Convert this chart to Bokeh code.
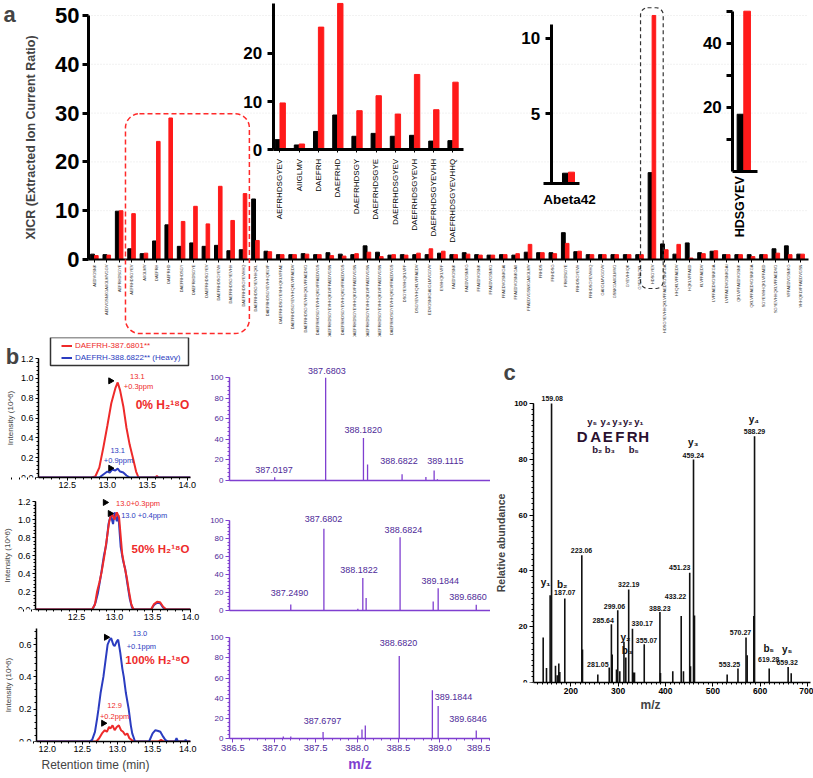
import math
from bokeh.plotting import figure
from bokeh.models import (Range1d, LinearAxis, FixedTicker, BoxAnnotation, Label,
                          Legend, LegendItem, ColumnDataSource, PrintfTickFormatter)
from bokeh.layouts import column, row
from bokeh.transform import dodge
from bokeh.core.properties import value
from bokeh.embed import file_html
from bokeh.resources import INLINE

SANS = "Liberation Sans"
RED = "#ff1a1a"
CRED = "#ee2a2a"
CBLUE = "#2b3cc0"
PURPLE = "#7f3fd0"
PTEXT = "#4e2a98"

# ---------------- panel a data ----------------
peptides = [
    "AEDVGSNK", "AEDVGSNKGAIIGLMVGGV", "AEFRHDSGYE", "AEFRHDSGYEV", "AIIGLMV",
    "DAEFRH", "DAEFRHD", "DAEFRHDSGY", "DAEFRHDSGYE", "DAEFRHDSGYEV",
    "DAEFRHDSGYEVH", "DAEFRHDSGYEVHH", "DAEFRHDSGYEVHHQ", "DAEFRHDSGYEVHHQKL",
    "DAEFRHDSGYEVHHQKLVF", "DAEFRHDSGYEVHHQKLVFFAE", "DAEFRHDSGYEVHHQKLVFFAEDV",
    "DAEFRHDSGYEVHHQKLVFFAEDVG", "DAEFRHDSGYEVHHQKLVFFAEDVGS", "DAEFRHDSGYEVHHQKLVFFAEDVGSN",
    "DAEFRHDSGYEVHHQKLVFFAEDVGS", "DAEFRHDSGYEVHHQKLVFFAEDVGSN", "DAEFRHDSGYEVHHQKLVFFAEDVGSN",
    "DAEFRHDSGYEVHHQKLVFFAEDVGSN", "DAEFRHDSGYEVHHQKLVFFAEDVGS", "DSGYEVHHQKLVFF",
    "DSGYEVHHQKLVFFAEDV", "EDVGSNKGAIIGLMVGGVV", "EVHHQKLVFF", "FAEDVGSNK",
    "FAEDVGSNKG", "FFAEDVGSNK", "FFAEDVGSNKG", "FFAEDVGSNKGAI", "FFAEDVGSNKGAII",
    "FFAEDVGSNKGAIIGLMV", "FRHDS", "FRHDSG", "FRHDSGYE", "FRHDSGYEVH",
    "FRHDSGYEVHHQ", "GAIIGLMVGGVV", "GSNKGAIIGLMVG", "GYEVHHQK", "GYEVHHQKL",
    "HDSGYEV", "HDSGYEVHHQKLVFFAEDVGSNKGA", "HHQKLVFFAEDV", "HQKLVFFAED", "KLVFFAEDV",
    "LVFFAEDVGSNKGA", "LVFFAEDVGSNKGAI", "QKLVFFAEDVGSNK", "QKLVFFAEDVGSNKGA",
    "SGYEVHHQKLVFFAED", "SGYEVHHQKLVFFAEDVG", "VFFAEDVGSNKG", "VHHQKLVFFAEDVGSN",
]
xicr_black = [1.1, 1.0, 9.9, 2.2, 1.2, 3.8, 7.1, 2.7, 3.4, 2.7,
              2.9, 1.8, 2.0, 12.4, 1.7, 1.0, 1.0, 1.2, 1.0, 1.4,
              1.1, 1.0, 2.8, 1.5, 0.9, 1.0, 1.0, 1.0, 1.3, 1.0,
              1.4, 1.0, 0.9, 1.0, 0.9, 1.5, 1.4, 1.4, 5.5, 1.6,
              1.0, 1.0, 1.0, 1.0, 1.0, 17.8, 3.2, 1.1, 3.4, 1.4,
              1.7, 1.0, 1.0, 1.0, 1.0, 2.2, 2.8, 1.1]
xicr_red = [0.8, 0.9, 10.0, 9.4, 1.3, 24.2, 29.0, 7.8, 10.9, 7.3,
            15.0, 8.0, 13.5, 3.9, 1.6, 1.0, 1.0, 1.1, 1.0, 0.8,
            0.7, 1.2, 1.5, 0.6, 1.0, 0.9, 1.3, 2.2, 1.7, 1.0,
            1.1, 0.9, 0.9, 1.0, 1.2, 3.1, 1.4, 1.2, 3.3, 1.7,
            1.0, 1.0, 1.0, 1.0, 1.0, 50.0, 2.0, 3.1, 0.3, 1.2,
            1.8, 1.0, 1.0, 0.6, 1.0, 1.3, 1.0, 1.1]
main_yticks = [0, 10, 20, 30, 40, 50]

inset1_names = peptides[3:13]
inset1_black = [2.1, 1.0, 3.8, 7.2, 2.8, 3.4, 2.8, 3.0, 1.8, 1.9]
inset1_red = [9.7, 1.2, 25.4, 30.3, 8.1, 11.2, 7.4, 15.6, 8.3, 14.0]
inset1_yticks = [0, 10, 20]

abeta_name = ["Abeta42"]
abeta_black = [1.07]
abeta_red = [1.14]
abeta_yticks = [5, 10]

hdsg_name = ["HDSGYEV"]
hdsg_black = [17.8]
hdsg_red = [50.0]
hdsg_yticks = [10, 20, 30, 40, 50]

# ---------------- panel b data (chromatograms) ----------------
c1_red_t = [12.14, 12.5, 12.8, 12.85, 12.9, 12.95, 13.0, 13.05, 13.1, 13.13, 13.16, 13.2,
            13.24, 13.28, 13.32, 13.36, 13.39, 13.6, 13.62, 13.64, 13.8, 14.04]
c1_red_i = [0.0, 0.0, 0.0, 0.01, 0.1, 0.3, 0.52, 0.75, 0.9, 0.96, 0.88, 0.72,
            0.5, 0.33, 0.2, 0.06, 0.0, 0.0, 0.015, 0.0, 0.0, 0.0]
c1_blue_t = [12.14, 12.9, 12.95, 13.0, 13.03, 13.06, 13.1, 13.13, 13.16, 13.2, 13.24, 13.28, 14.04]
c1_blue_i = [0.0, 0.0, 0.03, 0.06, 0.05, 0.08, 0.07, 0.09, 0.06, 0.05, 0.02, 0.0, 0.0]

c2_red_t = [11.96, 12.7, 12.74, 12.77, 12.8, 12.83, 12.87, 12.9, 12.93, 12.96, 13.0, 13.03,
            13.06, 13.1, 13.13, 13.16, 13.19, 13.22, 13.25, 13.48, 13.52, 13.56, 13.6,
            13.64, 13.68, 14.0]
c2_red_i = [0.0, 0.0, 0.05, 0.2, 0.3, 0.42, 0.62, 0.8, 0.98, 1.07, 1.0, 1.08,
            1.02, 0.62, 0.48, 0.36, 0.2, 0.06, 0.0, 0.0, 0.06, 0.085, 0.08,
            0.03, 0.0, 0.0]
c2_blue_t = [11.96, 12.71, 12.75, 12.78, 12.82, 12.86, 12.89, 12.92, 12.95, 12.98, 13.0,
             13.03, 13.05, 13.08, 13.11, 13.14, 13.17, 13.2, 13.23, 13.26, 13.48, 13.52,
             13.56, 13.6, 13.64, 13.68, 14.0]
c2_blue_i = [0.0, 0.0, 0.08, 0.18, 0.38, 0.6, 0.72, 0.95, 1.05, 0.95, 1.08,
             0.98, 1.05, 0.7, 0.55, 0.45, 0.28, 0.12, 0.02, 0.0, 0.0, 0.05,
             0.075, 0.07, 0.02, 0.0, 0.0]

c3_blue_t = [11.85, 12.6, 12.64, 12.68, 12.71, 12.73, 12.76, 12.8, 12.83, 12.86, 12.89,
             12.91, 12.94, 12.96, 12.99, 13.01, 13.04, 13.07, 13.09, 13.12, 13.16, 13.19,
             13.21, 13.25, 13.45, 13.5, 13.54, 13.58, 13.61, 13.65, 13.68, 13.72, 13.82,
             13.84, 13.86, 13.96, 13.97, 13.98, 14.04]
c3_blue_i = [0.0, 0.0, 0.01, 0.06, 0.14, 0.2, 0.3, 0.4, 0.5, 0.6, 0.63,
             0.64, 0.6, 0.59, 0.62, 0.63, 0.55, 0.45, 0.4, 0.3, 0.2, 0.1,
             0.05, 0.0, 0.0, 0.05, 0.07, 0.065, 0.06, 0.03, 0.01, 0.0, 0.0,
             0.02, 0.0, 0.0, 0.012, 0.0, 0.0]
c3_red_t = [11.85, 12.7, 12.74, 12.78, 12.82, 12.85, 12.88, 12.9, 12.93, 12.96, 12.99,
            13.02, 13.05, 13.08, 13.11, 13.14, 13.17, 13.2, 13.24, 13.58, 13.62, 13.66, 14.04]
c3_red_i = [0.0, 0.0, 0.02, 0.05, 0.07, 0.06, 0.09, 0.08, 0.1, 0.07, 0.09,
            0.1, 0.07, 0.06, 0.04, 0.05, 0.02, 0.01, 0.0, 0.0, 0.01, 0.0, 0.0]

legend_labels = ["DAEFRH-387.6801**", "DAEFRH-388.6822** (Heavy)"]
conditions = ["0% H\u2082\u00b9\u2078O", "50% H\u2082\u00b9\u2078O", "100% H\u2082\u00b9\u2078O"]

# annotations (retention time, intensity, text)
c1_red_note = ([13.375, 13.39], [1.016, 0.92], ["13.1", "+0.3ppm"])
c1_blue_note = ([13.13, 13.14], [0.276, 0.168], ["13.1", "+0.9ppm"])
c1_marks = ([13.04, 13.04], [0.976, 0.094])
c2_red_note = ([13.31], [1.18], ["13.0+0.3ppm"])
c2_blue_note = ([13.39], [1.04], ["13.0 +0.4ppm"])
c2_marks = ([12.875, 12.94], [1.19, 1.067])
c3_blue_note = ([13.32, 13.34], [0.67, 0.588], ["13.0", "+0.1ppm"])
c3_red_note = ([12.96, 12.96], [0.223, 0.155], ["12.9", "+0.2ppm"])
c3_marks = ([12.84, 12.8], [0.645, 0.113])
cond_pos = ([13.69, 13.985, 14.026], [0.73, 0.67, 0.507])

# ---------------- panel b data (spectra) ----------------
s1_mz = [386.98, 387.60, 388.06, 388.11, 388.53, 388.82, 388.92, 388.96]
s1_int = [3.2, 100, 41.5, 15.6, 6.0, 3.5, 9.7, 1.2]
s1_lab = ["387.0197", "387.6803", "388.1820", "388.6822", "389.1115"]
s1_lab_x = [386.971, 387.615, 388.058, 388.493, 389.056]
s1_lab_y = [10.4, 107.1, 49.4, 18.8, 18.8]

s2_mz = [387.20, 387.60, 388.01, 388.07, 388.11, 388.52, 388.92, 388.98, 389.44]
s2_int = [6.7, 90.8, 2.0, 36.0, 14.0, 81.5, 10.0, 24.8, 6.3]
s2_lab = ["387.2490", "387.6802", "388.1822", "388.6824", "389.1844", "389.6860"]
s2_lab_x = [387.184, 387.594, 388.025, 388.56, 389.004, 389.34]
s2_lab_y = [19.7, 101.9, 45.2, 88.9, 33.3, 14.8]

s3_mz = [387.11, 387.20, 387.59, 388.01, 388.06, 388.10, 388.51, 388.91, 388.98, 389.44]
s3_int = [2.0, 2.0, 6.5, 3.0, 9.0, 13.0, 82.0, 48.0, 32.4, 8.0]
s3_lab = ["387.6797", "388.6820", "389.1844", "389.6846"]
s3_lab_x = [387.582, 388.50, 389.164, 389.34]
s3_lab_y = [17.2, 95.0, 41.4, 19.2]

spec_yticks = [0, 20, 40, 60, 80, 100]
spec_xticks = [386.5, 387.0, 387.5, 388.0, 388.5, 389.0, 389.5]

# ---------------- panel c data ----------------
ms2_mz = [141.4, 148.4, 156.08, 159.08, 167.4, 171.0, 174.4, 176.5, 187.07, 223.06, 224.5,
          256.9, 281.05, 285.64, 287.3, 296.4, 299.06, 303.4, 312.18, 316.11, 322.19,
          330.17, 331.7, 334.5, 355.07, 388.23, 389.4, 415.4, 433.22, 438.0, 451.23,
          452.9, 459.24, 461.3, 530.4, 553.25, 570.27, 572.7, 586.7, 588.29, 619.28,
          659.32, 665.8]
ms2_int = [16.1, 5.2, 31.3, 100, 6.0, 2.6, 6.8, 3.8, 30.1, 45.6, 11.8,
           2.9, 5.4, 20.9, 10.0, 4.7, 25.9, 4.0, 14.6, 9.0, 33.3,
           19.3, 3.6, 3.6, 13.7, 25.3, 3.4, 4.0, 23.8, 4.0, 39.3,
           5.8, 79.9, 24.0, 2.9, 5.0, 16.1, 9.8, 23.8, 88.3, 5.0,
           5.6, 3.3]
ms2_lab = ["159.08", "223.06", "459.24", "588.29", "451.23", "187.07", "322.19", "299.06",
           "285.64", "330.17", "355.07", "388.23", "433.22", "570.27", "553.25", "619.28",
           "659.32", "281.05"]
ms2_lab_x = [160.5, 222.4, 458.6, 588.2, 430.2, 187.1, 322.4, 292.2,
             268.3, 350.7, 359.8, 388.0, 421.1, 558.6, 535.3, 618.4,
             657.3, 256.9]
ms2_lab_y = [101.8, 47.4, 81.5, 89.8, 41.2, 32.3, 35.2, 27.1,
             22.3, 21.1, 15.2, 26.7, 30.7, 17.8, 6.5, 8.2,
             7.0, 6.5]
ion_lab = ["y\u2081", "b\u2082", "y\u2082", "b\u2083", "y\u2083", "y\u2084", "b\u2085", "y\u2085"]
ion_x = [146.3, 181.6, 315.4, 319.0, 458.6, 586.7, 618.4, 657.3]
ion_y = [35.7, 35.2, 16.3, 11.3, 86.2, 94.3, 12.2, 11.8]
seq_letters = ["D", "A", "E", "F", "R", "H"]
seq_x = [224.0, 252.5, 278.0, 303.3, 329.5, 354.0]
seq_y = [88.3] * 6
seq_y_ions = ["y\u2085", "y\u2084", "y\u2083", "y\u2082", "y\u2081"]
seq_y_x = [245.0, 273.2, 297.9, 320.3, 343.6]
seq_b_ions = ["b\u2082", "b\u2083", "b\u2085"]
seq_b_x = [255.6, 282.2, 333.0]
ms2_xticks = [200, 300, 400, 500, 600, 700]
ms2_yticks = [0, 20, 40, 60, 80, 100]


def base_fig(**kw):
    p = figure(output_backend="svg", toolbar_location=None, outline_line_color=None,
               background_fill_color="white", border_fill_color="white", **kw)
    p.grid.visible = False
    return p


def style_axis(ax, size, color="black", bold=False, lw=1.5):
    ax.axis_line_width = lw
    ax.axis_line_color = color
    ax.major_tick_line_color = color
    ax.minor_tick_line_color = color
    ax.major_label_text_font = SANS
    ax.major_label_text_font_size = size
    ax.major_label_text_color = color
    ax.major_label_text_font_style = "bold" if bold else "normal"
    ax.axis_label_text_font = SANS
    ax.axis_label_text_font_style = "normal"


# =============== PANEL A =====================
ncat = len(peptides)
xs = list(range(ncat))
x_lo, x_hi = -0.484, 57.63
src_a = ColumnDataSource(dict(x=xs, blk=xicr_black, red=xicr_red))
pa = base_fig(width=813, height=337, x_range=Range1d(-7.587, 58.03),
              y_range=Range1d(-15.98, 53.07), x_axis_location=None, y_axis_location=None,
              min_border_left=0, min_border_right=0, min_border_top=0, min_border_bottom=0)
grid_y = main_yticks[1:]
pa.segment(x0=[x_lo] * len(grid_y), x1=[x_hi] * len(grid_y), y0=grid_y, y1=grid_y,
           color="#e4e4e4", line_width=1, line_dash="1 2")
pa.vbar(x=dodge("x", -0.16, range=pa.x_range), top="blk", width=0.31, source=src_a,
        color="black")
pa.vbar(x=dodge("x", 0.15, range=pa.x_range), top="red", width=0.29, source=src_a,
        color=RED)

ya = LinearAxis(fixed_location=x_lo, bounds=(0, 50), ticker=FixedTicker(ticks=main_yticks))
style_axis(ya, "22px", bold=True, lw=3)
ya.major_tick_out = 6
ya.major_tick_in = 0
ya.major_tick_line_width = 3
ya.minor_tick_line_color = None
ya.major_label_standoff = 3
ya.axis_label = "XICR (Extracted Ion Current Ratio)"
ya.axis_label_text_font_size = "12.5px"
ya.axis_label_text_font_style = "bold"
ya.axis_label_standoff = 14
pa.add_layout(ya, "left")

xa = LinearAxis(fixed_location=0, bounds=(x_lo, x_hi), ticker=FixedTicker(ticks=xs))
style_axis(xa, "4px", color="black", lw=2)
xa.major_label_text_color = "#333333"
xa.major_label_overrides = {i: n for i, n in enumerate(peptides)}
xa.major_label_orientation = math.pi / 2
xa.major_tick_out = 3
xa.major_tick_in = 0
xa.minor_tick_line_color = None
xa.major_label_standoff = 2
pa.add_layout(xa, "below")

pa.extra_x_ranges = {"in1x": Range1d(-14.557, 27.786), "in2x": Range1d(-47.333, 20.417),
                     "in3x": Range1d(-55.887, 5.241)}
pa.extra_y_ranges = {"in1y": Range1d(-38.86, 30.911), "in2y": Range1d(-9.795, 12.493),
                     "in3y": Range1d(-51.97, 53.344)}

# inset 1
src_i1 = ColumnDataSource(dict(x=list(range(len(inset1_names))), blk=inset1_black, red=inset1_red))
pa.vbar(x=dodge("x", -0.13), top="blk", width=0.25, source=src_i1, color="black",
        x_range_name="in1x", y_range_name="in1y")
pa.vbar(x=dodge("x", 0.14), top="red", width=0.28, source=src_i1, color=RED,
        x_range_name="in1x", y_range_name="in1y")
i1y = LinearAxis(x_range_name="in1x", y_range_name="in1y", fixed_location=-0.354,
                 bounds=(0, 30.3), ticker=FixedTicker(ticks=inset1_yticks))
style_axis(i1y, "17px", bold=True, lw=3)
i1y.major_tick_out = 6
i1y.major_tick_in = 0
i1y.major_tick_line_width = 3
i1y.minor_tick_line_color = None
pa.add_layout(i1y, "left")
i1x = LinearAxis(x_range_name="in1x", y_range_name="in1y", fixed_location=0,
                 bounds=(-0.354, 9.57), ticker=FixedTicker(ticks=list(range(len(inset1_names)))))
style_axis(i1x, "8px", lw=3)
i1x.major_label_overrides = {i: n for i, n in enumerate(inset1_names)}
i1x.major_label_orientation = math.pi / 2
i1x.major_tick_out = 3
i1x.major_tick_in = 0
i1x.minor_tick_line_color = None
i1x.major_label_standoff = 6
pa.add_layout(i1x, "below")

# inset 2 (Abeta42)
abeta_base = 0.37
pa.vbar(x=[-0.25], top=abeta_black, bottom=abeta_base, width=0.5, color="black",
        x_range_name="in2x", y_range_name="in2y")
pa.vbar(x=[0.25], top=abeta_red, bottom=abeta_base, width=0.5, color=RED,
        x_range_name="in2x", y_range_name="in2y")
i2y = LinearAxis(x_range_name="in2x", y_range_name="in2y", fixed_location=-1.442,
                 bounds=(abeta_base, 10.9), ticker=FixedTicker(ticks=abeta_yticks))
style_axis(i2y, "17px", bold=True, lw=3)
i2y.major_tick_out = 6
i2y.major_tick_in = 0
i2y.major_tick_line_width = 3
i2y.minor_tick_line_color = None
pa.add_layout(i2y, "left")
i2x = LinearAxis(x_range_name="in2x", y_range_name="in2y", fixed_location=abeta_base,
                 bounds=(-2.083, 0.917), ticker=FixedTicker(ticks=[0.083]))
style_axis(i2x, "13.5px", bold=True, lw=3)
i2x.major_label_overrides = {0.083: abeta_name[0]}
i2x.major_tick_out = 0
i2x.major_tick_in = 0
i2x.minor_tick_line_color = None
i2x.major_label_standoff = 8
pa.add_layout(i2x, "below")

# inset 3 (HDSGYEV)
pa.vbar(x=[-0.25], top=hdsg_black, width=0.5, color="black",
        x_range_name="in3x", y_range_name="in3y")
pa.vbar(x=[0.25], top=hdsg_red, width=0.5, color=RED,
        x_range_name="in3x", y_range_name="in3y")
i3y = LinearAxis(x_range_name="in3x", y_range_name="in3y", fixed_location=-0.827,
                 bounds=(0, 50), ticker=FixedTicker(ticks=hdsg_yticks))
style_axis(i3y, "17px", bold=True, lw=3)
i3y.major_label_overrides = {10: "", 30: "", 50: ""}
i3y.major_tick_out = 6
i3y.major_tick_in = 0
i3y.major_tick_line_width = 3
i3y.minor_tick_line_color = None
pa.add_layout(i3y, "left")
i3x = LinearAxis(x_range_name="in3x", y_range_name="in3y", fixed_location=0,
                 bounds=(-0.85, 1.03), ticker=FixedTicker(ticks=[-0.248]))
style_axis(i3x, "12.5px", bold=True, lw=3)
i3x.major_label_overrides = {-0.248: hdsg_name[0]}
i3x.major_label_orientation = math.pi / 2
i3x.major_tick_out = 0
i3x.major_tick_in = 0
i3x.minor_tick_line_color = None
i3x.major_label_standoff = 5
pa.add_layout(i3x, "below")

# dashed highlight boxes
pa.add_layout(BoxAnnotation(left=2.5, right=12.5, top=29.86, bottom=-15.16, fill_alpha=0,
                            line_color="#ff2a2a", line_alpha=1, line_width=1.5,
                            line_dash="5 3", border_radius=14))
pa.add_layout(BoxAnnotation(left=44.07, right=45.9, top=51.58, bottom=-5.94, fill_alpha=0,
                            line_color="#333333", line_alpha=1, line_width=1.2,
                            line_dash="4 3", border_radius=7))
pa.add_layout(Label(x=3, y=323, x_units="screen", y_units="screen", text="a",
                    text_font=SANS, text_font_size="22px", text_font_style="bold",
                    text_baseline="middle"))


# =============== PANEL B chromatograms =====================
def chrom(height, top, bottom, right, xr, x_axis_at, yr, ybounds, yticks, xticks):
    p = base_fig(width=200, height=height, x_range=Range1d(*xr), y_range=Range1d(*yr),
                 y_axis_location=None,
                 min_border_left=0, min_border_right=right, min_border_top=top,
                 min_border_bottom=bottom)
    y = LinearAxis(fixed_location=x_axis_at, bounds=(0, ybounds),
                   ticker=FixedTicker(ticks=yticks,
                                      minor_ticks=[round(v * 0.04, 2)
                                                   for v in range(int(ybounds / 0.04) + 1)]))
    style_axis(y, "9px", lw=1.5)
    y.formatter = PrintfTickFormatter(format="%.1f")
    y.major_tick_out = 3
    y.major_tick_in = 0
    y.minor_tick_out = 2
    y.minor_tick_in = 0
    y.major_label_standoff = 2
    y.axis_label = "Intensity (10^6)"
    y.axis_label_text_font_size = "8px"
    y.axis_label_standoff = 3
    p.add_layout(y, "left")
    x = p.xaxis[0]
    style_axis(x, "9px", lw=1.5)
    x.bounds = (x_axis_at, xr[1])
    x.ticker = FixedTicker(ticks=xticks,
                           minor_ticks=[round(11.8 + v * 0.1, 1) for v in range(24)])
    x.formatter = PrintfTickFormatter(format="%.1f")
    x.major_tick_out = 3
    x.major_tick_in = 0
    x.minor_tick_out = 2
    x.minor_tick_in = 0
    x.major_label_standoff = 1
    return p


def note(p, data, color, size="7.5px"):
    p.text(x=data[0], y=data[1], text=data[2], text_color=color, text_font=value(SANS),
           text_font_size=size, text_align="center", text_baseline="middle")


def marks(p, data):
    p.scatter(x=data[0], y=data[1], marker="triangle", angle=-math.pi / 2, size=6,
              color="black")


def cond(p, i, size, align):
    p.text(x=[cond_pos[0][i]], y=[cond_pos[1][i]], text=[conditions[i]], text_color=CRED,
           text_font=value(SANS), text_font_size=size, text_font_style="bold",
           text_align=align, text_baseline="middle")


c1 = chrom(158, 0, 18, 10, (11.665, 14.04), 12.14, (0, 1.414), 1.2,
           [0.0, 0.2, 0.4, 0.6, 0.8, 1.0, 1.2], [12.5, 13.0, 13.5, 14.0])
r_red1 = c1.line(c1_red_t, c1_red_i, color=CRED, line_width=2)
r_blue1 = c1.line(c1_blue_t, c1_blue_i, color=CBLUE, line_width=2)
note(c1, c1_red_note, CRED)
note(c1, c1_blue_note, CBLUE)
marks(c1, c1_marks)
cond(c1, 0, "12px", "center")
c1.add_layout(BoxAnnotation(left=50, right=188, bottom=112, top=140, left_units="screen",
                            right_units="screen", top_units="screen", bottom_units="screen",
                            fill_color="white", fill_alpha=1, line_color="#333333",
                            line_alpha=1, line_width=1.5))
for rend, lab, col, yb in [(r_red1, legend_labels[0], CRED, 126), (r_blue1, legend_labels[1], CBLUE, 114)]:
    lg = Legend(items=[LegendItem(label=lab, renderers=[rend])], location=(61, yb),
                border_line_alpha=0, background_fill_alpha=0, padding=0, margin=0,
                glyph_width=11, glyph_height=11, label_height=11, label_standoff=3,
                label_text_font=SANS, label_text_font_size="8px", label_text_color=col)
    c1.add_layout(lg)
c1.add_layout(Label(x=12, y=121, x_units="screen", y_units="screen", text="b",
                    text_font=SANS, text_font_size="22px", text_font_style="bold",
                    text_align="center", text_baseline="middle"))

c2 = chrom(127, 1, 13, 0, (11.4975, 14.0), 11.96, (0, 1.256), 1.2,
           [0.0, 0.2, 0.4, 0.6, 0.8, 1.0, 1.2], [12.5, 13.0, 13.5, 14.0])
c2.line(c2_blue_t, c2_blue_i, color=CBLUE, line_width=2)
c2.line(c2_red_t, c2_red_i, color=CRED, line_width=2)
note(c2, c2_red_note, CRED)
note(c2, c2_blue_note, CBLUE)
marks(c2, c2_marks)
cond(c2, 1, "11.5px", "right")

c3 = chrom(156, 3, 37, 0, (11.3365, 14.039), 11.85, (0, 0.718), 0.7,
           [0.0, 0.2, 0.4, 0.6], [12.0, 12.5, 13.0, 13.5, 14.0])
c3.line(c3_red_t, c3_red_i, color=CRED, line_width=2)
c3.line(c3_blue_t, c3_blue_i, color=CBLUE, line_width=2)
note(c3, c3_blue_note, CBLUE)
note(c3, c3_red_note, CRED)
marks(c3, c3_marks)
cond(c3, 2, "11.5px", "right")
c3.xaxis[0].axis_label = "Retention time (min)"
c3.xaxis[0].axis_label_text_font_size = "12px"
c3.xaxis[0].axis_label_standoff = 3


# =============== PANEL B spectra =====================
def spec(height, top, bottom, left, xr, yr, mz, inten, lab, lx, ly, show_x):
    p = base_fig(width=290, height=height, x_range=Range1d(*xr), y_range=Range1d(*yr),
                 min_border_left=left, min_border_right=0, min_border_top=top,
                 min_border_bottom=bottom)
    p.segment(x0=mz, y0=[0] * len(mz), x1=mz, y1=inten, color=PURPLE, line_width=1.3)
    p.text(x=lx, y=ly, text=lab, text_color=PTEXT, text_font=value(SANS),
           text_font_size="9px", text_align="center", text_baseline="middle")
    y = p.yaxis[0]
    style_axis(y, "8px", color=PURPLE, lw=1.5)
    y.major_label_text_color = PTEXT
    y.ticker = FixedTicker(ticks=spec_yticks, minor_ticks=list(range(0, 101, 4)))
    y.bounds = (0, 100)
    y.major_tick_out = 4
    y.major_tick_in = 0
    y.minor_tick_out = 2
    y.minor_tick_in = 0
    y.major_label_standoff = 2
    x = p.xaxis[0]
    style_axis(x, "9.5px", color=PURPLE, lw=1.5)
    x.major_label_text_color = PTEXT
    if show_x:
        x.ticker = FixedTicker(ticks=spec_xticks,
                               minor_ticks=[round(386.5 + v * 0.1, 1) for v in range(32)])
        x.formatter = PrintfTickFormatter(format="%.1f")
        x.major_tick_out = 4
        x.minor_tick_out = 2
        x.major_tick_in = 0
        x.minor_tick_in = 0
        x.major_label_standoff = 2
        x.axis_label = "m/z"
        x.axis_label_text_font_size = "14px"
        x.axis_label_text_font_style = "bold"
        x.axis_label_text_color = PURPLE
        x.axis_label_standoff = 2
    else:
        x.ticker = FixedTicker(ticks=[])
        x.major_tick_out = 0
        x.minor_tick_out = 0
        x.major_tick_in = 0
        x.minor_tick_in = 0
    return p


s1 = spec(151, 25, 8, 27, (386.43, 389.606), (0, 114.9), s1_mz, s1_int, s1_lab,
          s1_lab_x, s1_lab_y, False)
s2 = spec(129, 21, 7, 29, (386.46, 389.612), (0, 112.2), s2_mz, s2_int, s2_lab,
          s2_lab_x, s2_lab_y, False)
s3 = spec(161, 10, 40, 29, (386.46, 389.612), (0, 110.3), s3_mz, s3_int, s3_lab,
          s3_lab_x, s3_lab_y, True)

# =============== PANEL C =====================
mz_lo, mz_hi = 120.9, 706.6
pc = base_fig(width=323, height=441, x_range=Range1d(30.0, mz_hi), y_range=Range1d(0, 123.66),
              y_axis_location=None,
              min_border_left=0, min_border_right=3, min_border_top=0, min_border_bottom=96)
pc.segment(x0=ms2_mz, y0=[0] * len(ms2_mz), x1=ms2_mz, y1=ms2_int, color="#111111",
           line_width=1.6)
pc.text(x=ms2_lab_x, y=ms2_lab_y, text=ms2_lab, text_font=value(SANS), text_font_size="7px",
        text_font_style="bold", text_align="center", text_baseline="middle", text_color="#111111")
pc.text(x=ion_x, y=ion_y, text=ion_lab, text_font=value(SANS), text_font_size="10px",
        text_font_style="bold", text_align="center", text_baseline="middle", text_color="#111111")
pc.text(x=seq_x, y=seq_y, text=seq_letters, text_font=value(SANS), text_font_size="15px",
        text_font_style="bold", text_align="center", text_baseline="middle", text_color="#2a1030")
pc.text(x=seq_y_x, y=[93.7] * len(seq_y_x), text=seq_y_ions, text_font=value(SANS),
        text_font_size="9.5px", text_font_style="bold", text_align="center",
        text_baseline="middle", text_color="#2a1030")
pc.text(x=seq_b_x, y=[83.5] * len(seq_b_x), text=seq_b_ions, text_font=value(SANS),
        text_font_size="9.5px", text_font_style="bold", text_align="center",
        text_baseline="middle", text_color="#2a1030")
cy = LinearAxis(fixed_location=mz_lo, bounds=(0, 100),
                ticker=FixedTicker(ticks=ms2_yticks, minor_ticks=list(range(0, 101, 2))))
style_axis(cy, "8px", bold=True, lw=1.5)
cy.major_tick_out = 4
cy.major_tick_in = 0
cy.minor_tick_out = 2
cy.minor_tick_in = 0
cy.major_label_standoff = 2
cy.axis_label = "Relative abundance"
cy.axis_label_text_font_size = "10.5px"
cy.axis_label_text_font_style = "bold"
cy.axis_label_standoff = 4
pc.add_layout(cy, "left")
cx = pc.xaxis[0]
style_axis(cx, "8.5px", bold=True, lw=1.5)
cx.bounds = (mz_lo, mz_hi)
cx.ticker = FixedTicker(ticks=ms2_xticks, minor_ticks=list(range(130, 711, 10)))
cx.major_tick_out = 4
cx.major_tick_in = 0
cx.minor_tick_out = 2
cx.minor_tick_in = 0
cx.major_label_standoff = 1
cx.axis_label = "m/z"
cx.axis_label_text_font_size = "12px"
cx.axis_label_text_font_style = "bold"
cx.axis_label_standoff = 1
pc.add_layout(Label(x=19, y=310, x_units="screen", y_units="screen", text="c",
                    text_font=SANS, text_font_size="22px", text_font_style="bold",
                    text_align="center", text_baseline="middle"))

layout = column(pa, row(column(c1, c2, c3), column(s1, s2, s3), pc))
open("out.html", "w").write(file_html(layout, INLINE))
